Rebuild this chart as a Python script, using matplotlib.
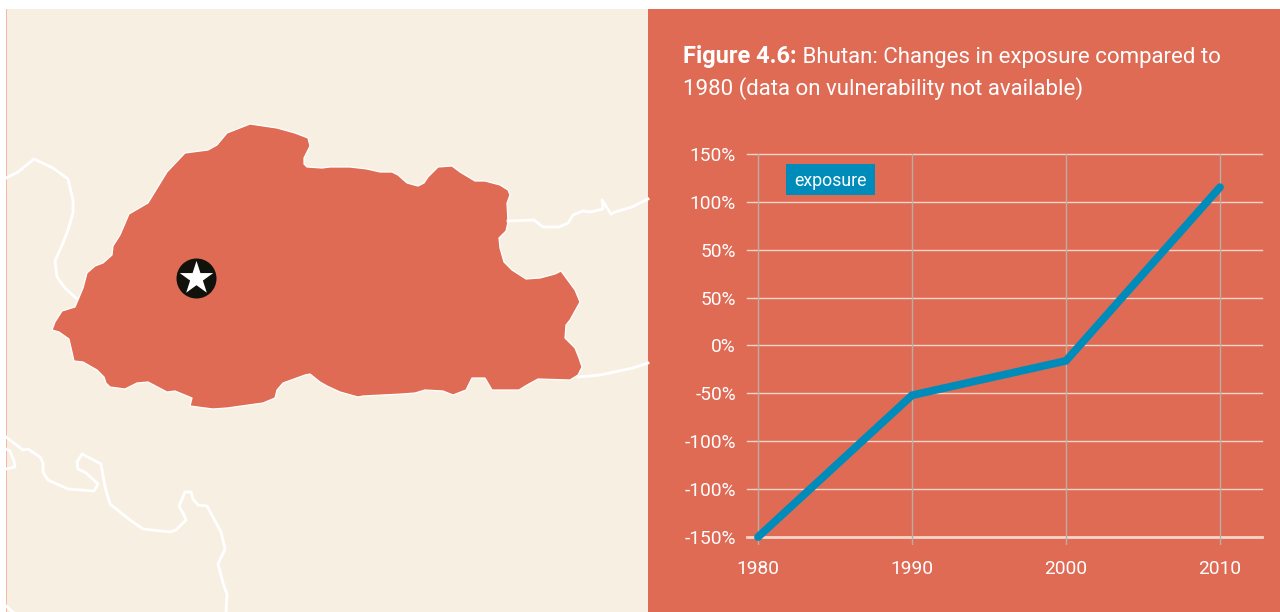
import numpy as np
import matplotlib
matplotlib.use('Agg')
import matplotlib.pyplot as plt
from matplotlib.patches import Rectangle, Polygon

# chart data
anios = [1980, 1990, 2000, 2010]
exposure = [-150, -39, -12, 124]
pos_y = [150, 112.5, 75, 37.5, 0, -37.5, -75, -112.5, -150]
etiquetas_y = ['150%', '100%', '50%', '50%', '0%', '-50%', '-100%', '-100%', '-150%']

# map outlines (pixels)
bhutan = [(250,124),(277,128),(295,133),(308,138),(310,146),(304,158),(304,164),(307,167),(322,168),(330,167),
          (350,167),(367,169),(380,172),(392,172),(398,175),(407,183),(418,186),(424,183),(428,177),(438,167),
          (452,166),(460,172),(475,181),(485,181),(500,185),(508,190),(510,195),(507,203),(508,222),(506,231),
          (499,238),(500,248),(504,262),(512,270),(526,279),(540,278),(555,274),(561,271),(575,290),(580,302),
          (570,320),(566,325),(565,338),(575,348),(579,358),(582,367),(578,375),(570,380),(538,379),(527,385),
          (519,390),(492,390),(485,378),(472,378),(466,390),(453,395),(443,391),(425,390),(415,393),(402,394),
          (363,396),(358,397),(340,392),(327,386),(320,382),(310,374),(305,375),(283,383),(277,390),(275,398),
          (263,403),(227,408),(213,409),(190,406),(192,398),(175,391),(167,392),(148,382),(137,383),(125,389),
          (110,387),(106,383),(104,377),(97,370),(83,362),(74,361),(69,339),(59,332),(52,330),(55,322),
          (62,311),(75,307),(78,300),(83,288),(87,273),(95,266),(103,263),(112,255),(113,246),(120,235),
          (129,214),(148,203),(167,172),(185,153),(208,150),(217,145),(227,133)]
borde_no = [(6,178),(18,172),(34,159),(53,168),(68,179),(73,200),(73,213),(68,230),(63,243),(55,261),
            (57,277),(65,288),(77,299)]
borde_e1 = [(508,221),(534,220),(543,227),(559,227),(568,223),(573,215),(583,211),(590,212),(603,209),
            (602,200),(611,214),(615,212),(632,207),(648,199)]
borde_e2 = [(578,377),(600,375),(633,368),(648,363)]
borde_s = [(6,437),(23,450),(28,449),(40,457),(43,463),(43,472),(48,480),(68,489),(94,491),(98,484),
           (86,473),(78,469),(77,462),(82,454),(101,464),(105,487),(110,504),(130,520),(143,529),(170,532),
           (176,530),(186,520),(184,515),(179,506),(185,492),(191,492),(193,499),(198,505),(207,506),(221,532),
           (225,549),(218,564),(223,583),(227,594),(226,612)]
borde_s2 = [(6,449),(10,451),(14,461),(15,467),(6,469)]
borde_s3 = [(6,606),(13,612)]
capital = (196, 278)

CREMA = '#F8EFE3'
CORAL = '#DF6B55'
AZUL = '#008CBA'
fuente = ['Roboto', 'Liberation Sans', 'DejaVu Sans']

W, H = 1280, 612
fig = plt.figure(figsize=(W / 100, H / 100), dpi=100, facecolor='white')

# background and map, pixel coordinates
mapa = fig.add_axes([0, 0, 1, 1])
mapa.set_xlim(0, W)
mapa.set_ylim(H, 0)
mapa.axis('off')
mapa.add_patch(Rectangle((6, 9), 642, H - 9, fc=CREMA, ec='none'))
mapa.add_patch(Rectangle((648, 9), W - 648, H - 9, fc=CORAL, ec='none'))
mapa.add_patch(Rectangle((6, 9), 1, H - 9, fc='#F6B8A5', ec='none'))

for borde in [borde_no, borde_e1, borde_e2, borde_s, borde_s2, borde_s3]:
    xs, ys = zip(*borde)
    mapa.plot(xs, ys, color='white', lw=2.0, solid_joinstyle='round')
mapa.add_patch(Polygon(bhutan, closed=True, fc=CORAL, ec='white', lw=0.9, joinstyle='round'))
mapa.scatter([capital[0]], [capital[1]], s=830, color='#12120C', zorder=5, linewidths=0)
mapa.scatter([capital[0]], [capital[1]], s=640, marker='*', color='white', zorder=6, linewidths=0)

# title
t1 = mapa.text(683, 57, 'Figure 4.6:', family=fuente, fontsize=17, fontweight='bold',
               color='white', va='center', ha='left')
mapa.annotate(' Bhutan: Changes in exposure compared to', xy=(1, 0.5), xycoords=t1, family=fuente,
              fontsize=16, color='white', va='center', ha='left')
mapa.text(683, 89, '1980 (data on vulnerability not available)', family=fuente, fontsize=16,
          color='white', va='center', ha='left')

# line chart
x0, x1, y_top, y_bot = 747, 1262, 154, 545
ax = fig.add_axes([x0 / W, 1 - y_bot / H, (x1 - x0) / W, (y_bot - y_top) / H])
ax.patch.set_alpha(0)
ax.set_xlim(1980 - 11 / 15.4, 2010 + 42 / 15.4)
ax.set_ylim(-150 - 8 * 37.5 / 47.875, 150)
for s in ax.spines.values():
    s.set_visible(False)
for v in pos_y:
    ax.axhline(v, color='#F4D6C8', lw=2 if v == -150 else 1.0, clip_on=False, zorder=1)
for a in anios:
    ax.axvline(a, color='#B9ADA5', lw=1.0, zorder=2)
ax.plot(anios, exposure, color=AZUL, lw=5.6, solid_capstyle='round', solid_joinstyle='miter', zorder=3)

ax.set_xticks(anios)
ax.set_xticklabels([str(a) for a in anios], family=fuente, fontsize=13.8, color='white')
ax.set_yticks(pos_y)
ax.set_yticklabels(etiquetas_y, family=fuente, fontsize=13.8, color='white')
ax.tick_params(axis='both', length=0)
ax.tick_params(axis='y', pad=8)
ax.tick_params(axis='x', pad=10.5)

mapa.add_patch(Rectangle((786, 164), 89, 31, fc=AZUL, ec='none'))
mapa.text(830.5, 180.5, 'exposure', family=fuente, fontsize=12.8, color='white', va='center', ha='center', zorder=7)

fig.savefig('out.png', dpi=100, facecolor=fig.get_facecolor())
